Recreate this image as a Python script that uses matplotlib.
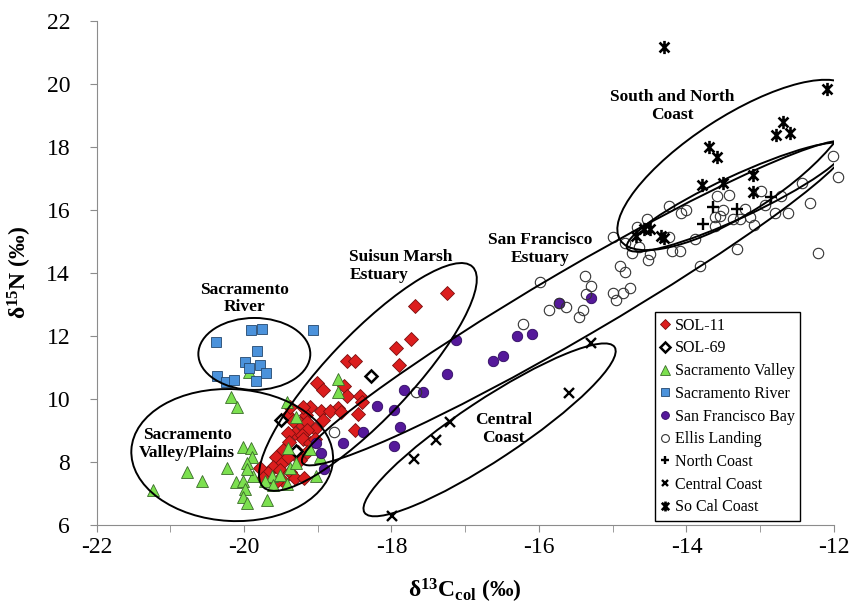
import numpy as np
import matplotlib.pyplot as plt
from matplotlib.patches import Ellipse
from matplotlib.path import Path
from matplotlib.transforms import Affine2D

plt.rcParams['font.family'] = 'Liberation Serif'
plt.rcParams['axes.unicode_minus'] = False
plt.rcParams['mathtext.fontset'] = 'custom'
plt.rcParams['mathtext.rm'] = 'Liberation Serif:bold'
plt.rcParams['mathtext.bf'] = 'Liberation Serif:bold'
plt.rcParams['mathtext.it'] = 'Liberation Serif:bold:italic'

# d13C / d15N values
sol11_x = [-17.25, -17.68, -17.94, -17.73, -17.90, -18.61, -18.50, -19.01, -18.93, -18.65,
           -18.61, -18.43, -18.40, -18.45, -18.49, -18.73, -19.10, -18.95, -18.84, -18.69,
           -18.93, -19.16, -19.24, -19.41, -19.33, -19.15, -19.04, -19.14, -19.31, -19.22,
           -19.41, -19.39, -19.20, -19.11, -19.04, -19.47, -19.57, -19.49, -19.41, -19.27,
           -19.24, -19.60, -19.51, -19.78, -19.67, -19.74, -19.38, -19.31, -19.18, -19.49,
           -19.56, -19.15, -19.38, -19.20]
sol11_y = [13.38, 12.95, 11.63, 11.90, 11.09, 11.21, 11.21, 10.52, 10.29, 10.41,
           10.10, 10.11, 9.91, 9.51, 9.03, 9.73, 9.76, 9.62, 9.63, 9.60,
           9.33, 9.49, 9.23, 9.49, 9.30, 9.28, 9.04, 9.02, 8.91, 8.86,
           8.93, 8.64, 8.72, 8.59, 8.72, 8.38, 8.17, 7.96, 8.17, 8.33,
           8.06, 7.85, 7.75, 7.80, 7.64, 7.48, 7.69, 7.48, 7.48, 7.43,
           7.37, 8.33, 9.76, 9.76]

sol69_x = [-18.28, -19.50, -19.30]
sol69_y = [10.74, 9.33, 8.36]

sac_valley_x = [-20.17, -20.10, -19.42, -19.30, -18.72, -18.73, -20.02, -19.91, -19.89, -19.96,
                -20.77, -20.23, -20.57, -21.24, -20.11, -20.01, -19.99, -20.01, -19.96, -19.69,
                -19.41, -19.10, -19.38, -19.29, -19.62, -19.88, -19.72, -19.51, -19.02, -19.42,
                -18.97, -19.96, -19.60, -19.93]
sac_valley_y = [10.06, 9.75, 9.89, 9.43, 10.63, 10.23, 8.48, 8.43, 8.15, 7.98,
                7.68, 7.82, 7.40, 7.10, 7.37, 7.40, 7.13, 6.90, 6.70, 6.79,
                8.43, 8.42, 7.80, 7.98, 7.57, 7.54, 7.40, 7.59, 7.55, 7.30,
                8.17, 7.77, 7.27, 10.86]

sac_river_x = [-19.91, -19.75, -19.06, -20.38, -19.82, -19.99, -19.78, -19.93, -19.70, -20.37,
               -20.25, -20.14, -19.84]
sac_river_y = [12.19, 12.21, 12.19, 11.81, 11.53, 11.18, 11.08, 10.99, 10.82, 10.73,
               10.55, 10.60, 10.57]

sf_bay_x = [-17.12, -17.25, -16.62, -16.49, -16.30, -16.09, -15.73, -15.29, -17.83, -17.57,
            -18.20, -17.97, -17.89, -18.39, -17.96, -18.66, -19.02, -18.95, -18.91]
sf_bay_y = [11.87, 10.79, 11.21, 11.38, 12.01, 12.06, 13.06, 13.22, 10.29, 10.23,
            9.79, 9.65, 9.10, 8.94, 8.52, 8.60, 8.60, 8.30, 7.77]

ellis_x = [-18.78, -17.67, -16.22, -15.98, -15.86, -15.73, -15.63, -15.46, -15.41, -15.37,
           -15.36, -15.29, -15.00, -14.96, -14.86, -14.77, -14.90, -14.83, -15.00, -14.84,
           -14.74, -14.52, -14.49, -14.64, -14.54, -14.67, -14.24, -14.08, -14.01, -13.88,
           -14.19, -14.09, -13.81, -13.32, -13.61, -13.50, -13.59, -13.43, -13.55, -13.62,
           -13.37, -13.27, -13.20, -13.14, -13.09, -12.99, -12.94, -12.80, -12.72, -12.62,
           -12.43, -12.32, -12.21, -12.01, -11.94, -14.24]
ellis_y = [8.95, 10.23, 12.37, 13.73, 12.84, 13.06, 12.91, 12.59, 12.83, 13.91,
           13.32, 13.59, 13.38, 13.13, 13.36, 13.51, 14.23, 14.03, 15.14, 14.94,
           14.65, 14.40, 14.59, 14.83, 15.70, 15.47, 16.13, 15.91, 16.00, 15.08,
           14.71, 14.71, 14.21, 14.75, 15.50, 16.00, 16.44, 16.48, 15.81, 15.79,
           15.70, 15.70, 16.02, 15.77, 15.52, 16.60, 16.16, 15.91, 16.44, 15.91,
           16.85, 16.21, 14.65, 17.70, 17.06, 15.14]

north_coast_x = [-13.64, -13.32, -13.78, -12.86]
north_coast_y = [16.09, 16.02, 15.57, 16.40]

central_coast_x = [-15.29, -15.59, -17.20, -17.40, -17.70, -17.99]
central_coast_y = [11.79, 10.18, 9.28, 8.70, 8.10, 6.30]

socal_x = [-14.30, -12.10, -12.69, -12.79, -12.60, -13.69, -13.59, -13.10, -13.51, -13.79,
           -13.10, -14.69, -14.57, -14.50, -14.30, -14.34]
socal_y = [21.17, 19.84, 18.80, 18.38, 18.45, 17.99, 17.68, 17.10, 16.87, 16.78,
           16.58, 15.17, 15.40, 15.39, 15.10, 15.17]

# group outlines: centre (d13C, d15N), semi-axes in d13C units (screen-true), angle
groups = [
    (-19.86, 11.43, 0.759, 0.488, 0),
    (-20.16, 8.22, 1.369, 0.894, -3),
    (-18.32, 10.70, 2.060, 0.569, 46.5),
    (-15.50, 13.05, 4.295, 0.461, 30.3),
    (-16.67, 9.02, 2.033, 0.407, 33.5),
    (-13.33, 17.43, 1.870, 0.650, 33),
    (-13.32, 16.41, 1.640, 0.285, 25),
]
group_labels = [
    ('Sacramento\nRiver', -19.99, 13.19, 'center'),
    ('Sacramento\nValley/Plains', -20.77, 8.57, 'center'),
    ('Suisun Marsh\nEstuary', -18.57, 14.22, 'left'),
    ('San Francisco\nEstuary', -15.98, 14.75, 'center'),
    ('Central\nCoast', -16.48, 9.05, 'center'),
    ('South and North\nCoast', -14.19, 19.30, 'center'),
]

# excel-style asterisk: vertical bar + x
star = Path([(0, -1), (0, 1), (-0.75, -0.75), (0.75, 0.75), (-0.75, 0.75), (0.75, -0.75)],
            [Path.MOVETO, Path.LINETO, Path.MOVETO, Path.LINETO, Path.MOVETO, Path.LINETO])

fig = plt.figure(figsize=(8.51, 6.07), dpi=100)
ax = fig.add_axes([0.1134, 0.1351, 0.8666, 0.8303])

ax.plot(sol11_x, sol11_y, ls='none', marker='D', ms=7, mfc='#DC1E1E', mec='#7A0F0F', mew=0.6,
        label='SOL-11')
ax.plot(sol69_x, sol69_y, ls='none', marker='D', ms=6.5, mfc='white', mec='black', mew=1.8,
        label='SOL-69')
ax.plot(sac_valley_x, sac_valley_y, ls='none', marker='^', ms=9, mfc='#7CE04F', mec='#3B6B2A',
        mew=0.6, label='Sacramento Valley')
ax.plot(sac_river_x, sac_river_y, ls='none', marker='s', ms=7.5, mfc='#4B92DB', mec='#24476E',
        mew=0.6, label='Sacramento River')
ax.plot(sf_bay_x, sf_bay_y, ls='none', marker='o', ms=7.5, mfc='#55199A', mec='#2E0A60',
        mew=0.6, label='San Francisco Bay')
ax.plot(ellis_x, ellis_y, ls='none', marker='o', ms=7.5, mfc='none', mec='#333333', mew=0.8,
        label='Ellis Landing', clip_on=False)
ax.plot(north_coast_x, north_coast_y, ls='none', marker='+', ms=8, mec='black', mew=1.7,
        label='North Coast')
ax.plot(central_coast_x, central_coast_y, ls='none', marker='x', ms=6.5, mec='black', mew=1.7,
        label='Central Coast')
ax.plot(socal_x, socal_y, ls='none', marker=star, ms=9.5, mec='black', mew=1.9,
        label='So Cal Coast')

ax.set_xlim(-22, -12)
ax.set_ylim(6, 22)

# ellipses drawn in a space where both axes share the same pixel scale
bb = ax.get_position()
k = (bb.height * fig.get_figheight() / 16) / (bb.width * fig.get_figwidth() / 10)
tr = Affine2D().scale(1, 1 / k) + ax.transData
for cx, cy, a, b, ang in groups:
    ax.add_patch(Ellipse((cx, cy * k), 2 * a, 2 * b, angle=ang, transform=tr,
                         fill=False, ec='black', lw=1.4, zorder=4))

for txt, tx, ty, ha in group_labels:
    ax.text(tx, ty, txt, ha=ha, va='center', fontsize=12.5, fontweight='bold',
            linespacing=1.15, zorder=5)

ax.set_xticks(np.arange(-22, -11, 2))
ax.set_xticks(np.arange(-21, -12, 2), minor=True)
ax.set_yticks(np.arange(6, 23, 2))
ax.tick_params(axis='both', which='both', direction='out', length=5, color='#8c8c8c',
               labelsize=17)
ax.tick_params(axis='y', pad=14)

for s in ['top', 'right']:
    ax.spines[s].set_visible(False)
for s in ['left', 'bottom']:
    ax.spines[s].set_color('#8c8c8c')

ax.set_xlabel(r'δ$^{13}$C$_{\mathrm{col}}$ (‰)', fontsize=17, fontweight='bold', labelpad=14)
ax.set_ylabel(r'δ$^{15}$N (‰)', fontsize=17, fontweight='bold', labelpad=9)

leg = ax.legend(loc='lower left', bbox_to_anchor=(0.757, 0.008), borderaxespad=0,
                fontsize=11.5, frameon=True, fancybox=False, edgecolor='black', framealpha=1,
                handlelength=0.6, handletextpad=0.3, labelspacing=0.42, borderpad=0.35,
                markerscale=0.75)
leg.get_frame().set_linewidth(1.0)
leg.set_zorder(6)

fig.savefig('out.png', dpi=100)
